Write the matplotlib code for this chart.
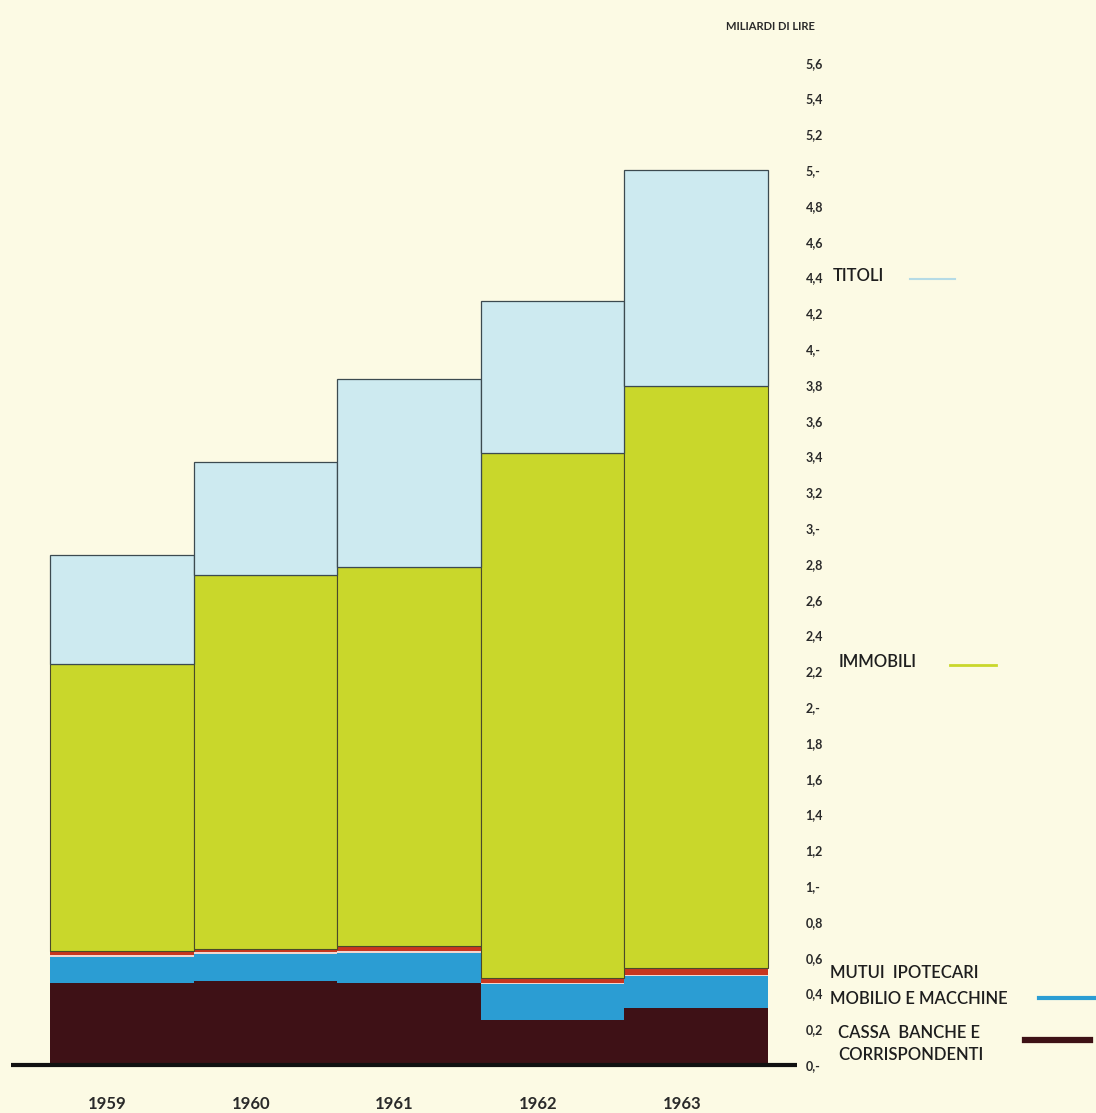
import matplotlib
matplotlib.use("Agg")
import matplotlib.pyplot as plt
import numpy as np

# dati (miliardi di lire)
anni = ["1959", "1960", "1961", "1962", "1963"]
cassa = [0.46, 0.47, 0.46, 0.25, 0.32]
mobilio = [0.145, 0.152, 0.168, 0.20, 0.175]
mutui = [0.030, 0.028, 0.037, 0.034, 0.045]
immobili = [1.605, 2.09, 2.115, 2.936, 3.252]
titoli = [0.61, 0.63, 1.05, 0.85, 1.21]

tick_val = np.round(np.arange(0, 5.61, 0.2), 1)
tick_lab = ["0,-", "0,2", "0,4", "0,6", "0,8", "1,-", "1,2", "1,4", "1,6", "1,8",
            "2,-", "2,2", "2,4", "2,6", "2,8", "3,-", "3,2", "3,4", "3,6", "3,8",
            "4,-", "4,2", "4,4", "4,6", "4,8", "5,-", "5,2", "5,4", "5,6"]

# colori
SFONDO = "#fcfae4"
C_TITOLI = "#cdeaf0"
C_IMMOBILI = "#c9d72b"
C_MUTUI = "#c8361f"
C_MOBILIO = "#2b9dd3"
C_CASSA = "#3e1116"

plt.rcParams["font.family"] = ["Lato", "DejaVu Sans"]

fig = plt.figure(figsize=(10.96, 11.13), dpi=100, facecolor=SFONDO)
ax = fig.add_axes([0, 0, 1, 1])
ax.set_facecolor(SFONDO)

x = np.arange(len(anni))
base = np.zeros(len(anni))

# segmenti in basso senza bordo
ax.bar(x, cassa, width=1.0, bottom=base, align="edge", color=C_CASSA, lw=0)
base = base + np.array(cassa)
ax.bar(x, mobilio, width=1.0, bottom=base, align="edge", color=C_MOBILIO, lw=0)
base = base + np.array(mobilio)
ax.bar(x, mutui, width=1.0, bottom=base, align="edge", color=C_MUTUI, lw=0)
# sottile linea chiara tra mobilio e mutui
ax.bar(x, [0.008] * 5, width=1.0, bottom=base, align="edge", color="#f2d6d0", lw=0)
base = base + np.array(mutui)
ax.bar(x, immobili, width=1.0, bottom=base, align="edge", color=C_IMMOBILI,
       edgecolor="#4a4a2a", lw=0.8)
base = base + np.array(immobili)
ax.bar(x, titoli, width=1.0, bottom=base, align="edge", color=C_TITOLI,
       edgecolor="#3c4a50", lw=0.9)

# linea di base
ax.hlines(0, -0.27, 5.2, color="#111111", lw=3, zorder=5)

ax.set_xlim(-50 / 143.6, 1046 / 143.6)
ax.set_ylim(-48 / 179, 1065 / 179)

# asse y a destra
ax.yaxis.tick_right()
ax.spines["right"].set_position(("data", 5.0))
for s in ax.spines.values():
    s.set_visible(False)
ax.set_yticks(tick_val)
ax.set_yticklabels(tick_lab, fontsize=9, fontweight="bold", color="#2a2a2a")
ax.tick_params(axis="y", length=0, pad=27)
ax.set_xticks([])

# etichette anni
for i, a in enumerate(anni):
    ax.text(i + 0.4, -0.22, a, ha="center", va="center", fontsize=12,
            fontweight="bold", color="#2a2a2a")

ax.text(5.02, 5.80, "MILIARDI DI LIRE", ha="center", va="center", fontsize=8,
        fontweight="bold", color="#2a2a2a")

# leggenda
kw = dict(fontsize=12, color="#1e1e1e", va="center", ha="left", fontweight="semibold")
ax.text(5.45, 4.41, "TITOLI", **kw)
ax.plot([5.99, 6.30], [4.39, 4.39], color="#b5dbe6", lw=1.5)
ax.text(5.49, 2.25, "IMMOBILI", **kw)
ax.plot([6.27, 6.59], [2.235, 2.235], color=C_IMMOBILI, lw=2)
ax.text(5.43, 0.514, "MUTUI  IPOTECARI", **kw)
ax.text(5.43, 0.369, "MOBILIO E MACCHINE", **kw)
ax.plot([6.89, 7.28], [0.374, 0.374], color=C_MOBILIO, lw=3)
ax.text(5.49, 0.18, "CASSA  BANCHE E", **kw)
ax.text(5.49, 0.056, "CORRISPONDENTI", **kw)
ax.plot([6.79, 7.24], [0.14, 0.14], color=C_CASSA, lw=4.5)

fig.savefig("out.png", dpi=100, facecolor=SFONDO)
